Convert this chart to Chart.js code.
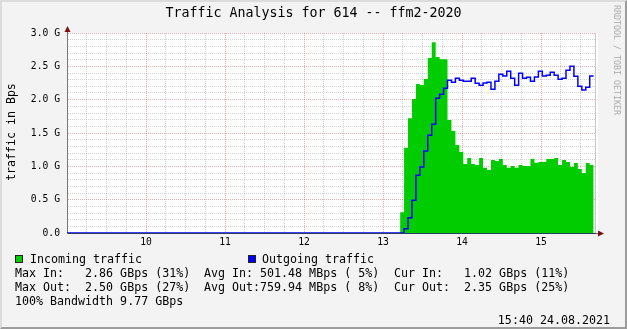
<!DOCTYPE html>
<html>
<head>
<meta charset="utf-8">
<script src="https://cdn.jsdelivr.net/npm/chart.js@4.4.1/dist/chart.umd.min.js"></script>
<style>
  html, body { margin: 0; padding: 0; }
  body { width: 627px; height: 329px; background: #f3f3f3; position: relative; overflow: hidden;
         font-family: 'DejaVu Sans Mono', monospace; color: #000; }
  #wrap { position: absolute; left: 0; top: 0; width: 627px; height: 329px; }
  .frame { position: absolute; left: 0; top: 0; width: 627px; height: 329px; box-sizing: border-box;
           border-top: 2px solid #dcdcdc; border-left: 2px solid #dcdcdc;
           border-right: 2px solid #9c9c9c; border-bottom: 2px solid #9c9c9c; pointer-events: none; }
  .title { position: absolute; left: 0; top: 5px; width: 627px; text-align: center; font-size: 13.3px; line-height: 16px; }
  .ytitle { position: absolute; left: 11px; top: 132px; transform: translate(-50%, -50%) rotate(-90deg);
            white-space: nowrap; font-size: 11.6px; }
  .mark { position: absolute; left: 617px; top: 60px; transform: translate(-50%, -50%) rotate(90deg);
          white-space: nowrap; font-size: 8.3px; color: #ababab; }
  .t { position: absolute; white-space: pre; font-size: 11.65px; line-height: 14px; }
  .box { position: absolute; width: 8px; height: 8px; box-sizing: border-box; border: 1px solid #222; }
</style>
</head>
<body>
<div id="wrap"><canvas id="traffic"></canvas></div>
<div class="title">Traffic Analysis for 614 -- ffm2-2020</div>
<div class="ytitle">traffic in Bps</div>
<div class="mark">RRDTOOL / TOBI OETIKER</div>

<div class="box" style="left:15px;top:255px;background:#00cc00"></div>
<div class="t" style="left:30px;top:252px">Incoming traffic</div>
<div class="box" style="left:248px;top:255px;background:#0000ff"></div>
<div class="t" style="left:262px;top:252px">Outgoing traffic</div>

<div class="t" style="left:15px;top:266px">Max In:   2.86 GBps (31%)</div>
<div class="t" style="left:204px;top:266px">Avg In: 501.48 MBps ( 5%)</div>
<div class="t" style="left:394px;top:266px">Cur In:   1.02 GBps (11%)</div>
<div class="t" style="left:15px;top:280px">Max Out:  2.50 GBps (27%)</div>
<div class="t" style="left:204px;top:280px">Avg Out:759.94 MBps ( 8%)</div>
<div class="t" style="left:394px;top:280px">Cur Out:  2.35 GBps (25%)</div>
<div class="t" style="left:15px;top:294px">100% Bandwidth 9.77 GBps</div>
<div class="t" style="right:17px;top:313px">15:40 24.08.2021</div>

<div class="frame"></div>

<script>
// end time of each 3-minute sample (value holds for the interval ending here)
const endTimes = [
  '13:16', '13:19', '13:22', '13:25', '13:28', '13:31', '13:34', '13:37', '13:40', '13:43',
  '13:46', '13:49', '13:52', '13:55', '13:58', '14:01', '14:04', '14:07', '14:10', '14:13',
  '14:16', '14:19', '14:22', '14:25', '14:28', '14:31', '14:34', '14:37', '14:40', '14:43',
  '14:46', '14:49', '14:52', '14:55', '14:58', '15:01', '15:04', '15:07', '15:10', '15:13',
  '15:16', '15:19', '15:22', '15:25', '15:28', '15:31', '15:34', '15:37', '15:40'
];
const dataStart = '13:13';
const graphStart = '09:00';

// GBps
const inTraffic = [
  0.31, 1.28, 1.72, 2.01, 2.235, 2.22, 2.31, 2.625, 2.86, 2.64,
  2.605, 2.605, 1.695, 1.53, 1.32, 1.215, 1.035, 1.125, 1.035, 1.02,
  1.125, 0.98, 0.945, 1.095, 1.08, 1.11, 1.02, 0.98, 1.005, 0.98,
  1.02, 1.005, 1.005, 1.11, 1.055, 1.065, 1.065, 1.11, 1.11, 1.125,
  1.02, 1.095, 1.065, 0.995, 1.05, 0.96, 0.90, 1.05, 1.02
];
const outTraffic = [
  0, 0.065, 0.23, 0.49, 0.865, 0.99, 1.23, 1.465, 1.63, 2.02,
  2.08, 2.17, 2.29, 2.26, 2.32, 2.29, 2.275, 2.275, 2.32, 2.245,
  2.215, 2.25, 2.26, 2.155, 2.275, 2.38, 2.355, 2.425, 2.32, 2.215,
  2.395, 2.32, 2.335, 2.275, 2.34, 2.425, 2.355, 2.365, 2.41, 2.365,
  2.305, 2.32, 2.44, 2.5, 2.35, 2.2, 2.145, 2.185, 2.355
];

const hourLabels = ['10', '11', '12', '13', '14', '15'];
const firstLabelHour = 10;
const yTickLabels = ['0.0', '0.5 G', '1.0 G', '1.5 G', '2.0 G', '2.5 G', '3.0 G'];

const toHours = s => { const [h, m] = s.split(':').map(Number); return h + m / 60; };

const inPoints = [{ x: toHours(dataStart), y: 0 }]
  .concat(endTimes.map((t, i) => ({ x: toHours(t), y: inTraffic[i] })));
const outPoints = [{ x: toHours(graphStart), y: 0 }, { x: toHours(dataStart), y: 0 }]
  .concat(endTimes.map((t, i) => ({ x: toHours(t), y: outTraffic[i] })));

const minorGrid = 'rgba(120,120,120,0.32)';
const majorGrid = 'rgba(210,40,40,0.38)';
const tickFont = { family: 'DejaVu Sans Mono', size: 9.7 };

const rrdDecor = {
  id: 'rrdDecor',
  beforeDraw(chart) {
    const { ctx, chartArea: a } = chart;
    ctx.save();
    ctx.fillStyle = '#ffffff';
    ctx.fillRect(a.left, a.top, a.right - a.left + 2, a.bottom - a.top);
    ctx.restore();
  },
  afterDraw(chart) {
    const { ctx, chartArea: a } = chart;
    ctx.save();
    ctx.strokeStyle = '#c8c8c8';
    ctx.lineWidth = 1;
    ctx.beginPath();
    ctx.moveTo(a.right - 0.5, a.top);
    ctx.lineTo(a.right - 0.5, a.bottom);
    ctx.stroke();
    // axis extensions + arrows
    ctx.strokeStyle = '#666';
    ctx.beginPath();
    ctx.moveTo(a.left + 0.5, a.top);
    ctx.lineTo(a.left + 0.5, a.top - 3);
    ctx.moveTo(a.right, a.bottom + 0.5);
    ctx.lineTo(a.right + 3, a.bottom + 0.5);
    ctx.stroke();
    ctx.fillStyle = '#7f1010';
    ctx.beginPath();
    ctx.moveTo(a.left + 0.5, a.top - 7);
    ctx.lineTo(a.left - 2.5, a.top - 1);
    ctx.lineTo(a.left + 3.5, a.top - 1);
    ctx.closePath();
    ctx.fill();
    ctx.beginPath();
    ctx.moveTo(a.right + 8, a.bottom + 0.5);
    ctx.lineTo(a.right + 2, a.bottom - 2.5);
    ctx.lineTo(a.right + 2, a.bottom + 3.5);
    ctx.closePath();
    ctx.fill();
    ctx.restore();
  }
};

new Chart(document.getElementById('traffic'), {
  type: 'line',
  data: {
    datasets: [
      {
        label: 'Incoming traffic',
        data: inPoints,
        order: 2,
        stepped: 'after',
        fill: 'origin',
        backgroundColor: '#00cc00',
        borderWidth: 0,
        pointRadius: 0
      },
      {
        label: 'Outgoing traffic',
        data: outPoints,
        order: 1,
        stepped: 'after',
        fill: false,
        borderColor: '#0000ff',
        borderWidth: 1.5,
        pointRadius: 0
      }
    ]
  },
  options: {
    responsive: true,
    maintainAspectRatio: false,
    devicePixelRatio: 1,
    animation: false,
    layout: { padding: { left: 0, top: 33, right: 31, bottom: 0 } },
    plugins: { legend: { display: false }, tooltip: { enabled: false }, title: { display: false } },
    scales: {
      x: {
        type: 'linear',
        min: 9,
        max: 9 + 529 / 79,
        z: 1,
        afterFit: s => { s.height = 96; },
        ticks: {
          stepSize: 0.25,
          includeBounds: false,
          autoSkip: false,
          maxRotation: 0,
          padding: 4,
          color: '#000',
          font: tickFont,
          callback: v => {
            const q = Math.round(v * 4);
            if (q % 4 !== 0) return '';
            return hourLabels[q / 4 - firstLabelHour] ?? '';
          }
        },
        grid: {
          drawTicks: false,
          color: c => (Math.round(c.tick.value * 4) % 4 === 0 ? majorGrid : minorGrid),
          lineWidth: 1
        },
        border: { display: true, color: '#2c3c60', width: 1, dash: [1, 1] }
      },
      y: {
        min: 0,
        max: 3,
        z: 1,
        afterFit: s => { s.width = 67; },
        ticks: {
          stepSize: 0.1,
          autoSkip: false,
          padding: 7,
          color: '#000',
          font: tickFont,
          callback: v => {
            const k = Math.round(v * 10);
            return k % 5 === 0 ? yTickLabels[k / 5] : '';
          }
        },
        grid: {
          drawTicks: false,
          color: c => (Math.round(c.tick.value * 10) % 5 === 0 ? majorGrid : minorGrid),
          lineWidth: 1
        },
        border: { display: true, color: '#777', width: 1, dash: [1, 1] }
      }
    }
  },
  plugins: [rrdDecor]
});
</script>
</body>
</html>
